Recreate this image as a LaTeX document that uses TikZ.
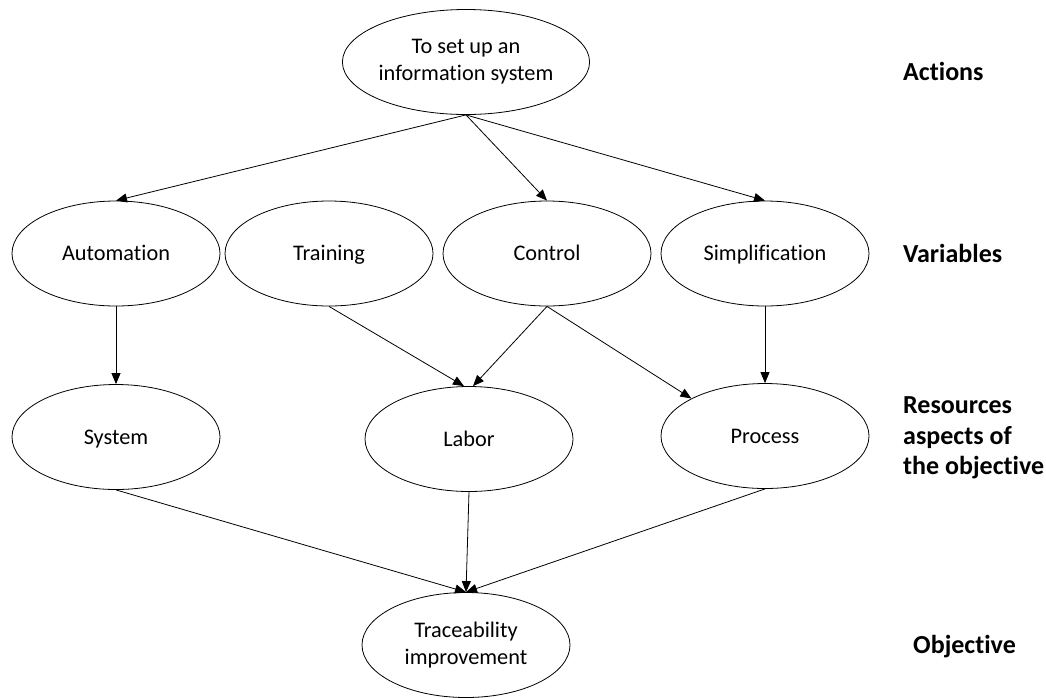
\documentclass[tikz,border=0pt]{standalone}
\usepackage{fontspec}
\setmainfont{Carlito}[Ligatures=NoCommon]
\usetikzlibrary{shapes.geometric,arrows.meta}
\begin{document}
\begin{tikzpicture}[x=1pt,y=-1pt,
  oval/.style={draw,ellipse,minimum width=208pt,minimum height=105pt,inner sep=0pt,
    align=center,font=\fontsize{22.3}{26.8}\selectfont,line width=0.8pt},
  one/.style={text height=14.3pt,text depth=0pt},
  lvl/.style={anchor=west,align=left,inner sep=0pt,font=\fontsize{26}{30.5}\selectfont\bfseries},
  arr/.style={-{Triangle[length=11pt,width=9pt]},line width=0.8pt}]
\useasboundingbox (0,0) rectangle (1046,697);
\node[oval] (top) at (466,62) {To set up an\\information system};
\node[oval,one] (auto) at (116,253.5) {Automation};
\node[oval,one] (train) at (329,253.5) {Training};
\node[oval,one] (ctrl) at (547,253.5) {Control};
\node[oval,one] (simp) at (765,253.5) {Simplification};
\node[oval,one] (sys) at (116,437) {System};
\node[oval,one] (lab) at (469,439) {Labor};
\node[oval,one] (proc) at (765,436) {Process};
\node[oval] (trace) at (466,645) {Traceability\\improvement};
\node[lvl] (lact) at (903,71) {Actions};
\node[lvl] (lvar) at (903,253) {Variables};
\node[lvl] (lres) at (903,438) {Resources\\aspects of\\the objective};
\node[lvl] (lobj) at (913,647) {Objective};
\draw[arr] (top.south) -- (auto.north);
\draw[arr] (top.south) -- (ctrl.north);
\draw[arr] (top.south) -- (simp.north);
\draw[arr] (auto.south) -- (sys.north);
\draw[arr] (train.south) -- ([xshift=-5pt]lab.north);
\draw[arr] (ctrl.south) -- ([xshift=4pt]lab.north);
\draw[arr] (ctrl.south) -- (proc.153);
\draw[arr] (simp.south) -- (proc.north);
\draw[arr] (sys.south) -- (trace.north);
\draw[arr] (lab.south) -- (trace.north);
\draw[arr] (proc.south) -- (trace.north);
\end{tikzpicture}
\end{document}
